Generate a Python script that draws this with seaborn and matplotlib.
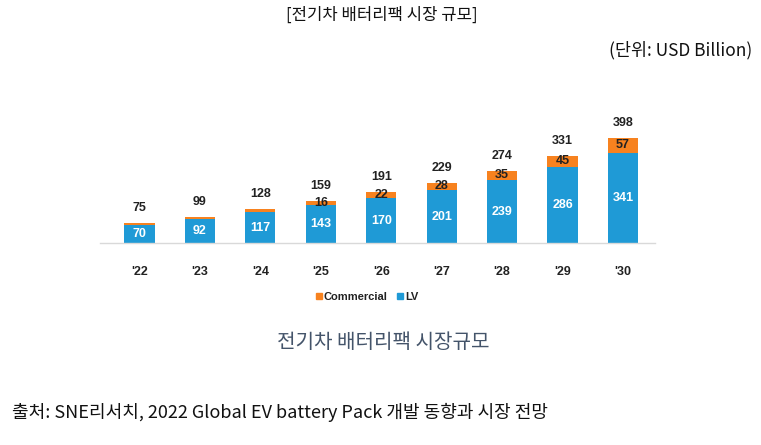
import matplotlib
matplotlib.use("Agg")
import matplotlib.pyplot as plt
import seaborn as sns
import pandas as pd
from matplotlib.lines import Line2D

years = ["'22", "'23", "'24", "'25", "'26", "'27", "'28", "'29", "'30"]
lv = [70, 92, 117, 143, 170, 201, 239, 286, 341]
commercial = [5, 7, 11, 16, 22, 28, 35, 45, 57]
totals = [75, 99, 128, 159, 191, 229, 274, 331, 398]
commercial_labels = ["", "", "", "16", "22", "28", "35", "45", "57"]

title_text = "[전기차 배터리팩 시장 규모]"
unit_text = "(단위: USD Billion)"
subtitle_text = "전기차 배터리팩 시장규모"
source_text = "출처: SNE리서치, 2022 Global EV battery Pack 개발 동향과 시장 전망"

BLUE = "#1F9AD6"
ORANGE = "#F7821F"

sns.set_theme(style="white")
plt.rcParams['font.family'] = ['Liberation Sans', 'DejaVu Sans']
KFONT = ['Noto Sans CJK KR', 'DejaVu Sans']

df = pd.DataFrame({"year": years, "lv": lv,
                   "stack": [a + b for a, b in zip(lv, commercial)]})

fig = plt.figure(figsize=(7.61, 4.45), dpi=100)
ax = fig.add_axes([100 / 761, (445 - 243.3) / 445, 555 / 761, (243.3 - 120) / 445])

sns.barplot(data=df, x="year", y="stack", color=ORANGE, width=0.5,
            saturation=1, ax=ax, linewidth=0)
sns.barplot(data=df, x="year", y="lv", color=BLUE, width=0.5,
            saturation=1, ax=ax, linewidth=0)

ax.set_xlim(-0.654, 8.53)
ax.set_ylim(0, 465)

NUM = 9
for i, (s, t) in enumerate(zip(df["stack"], totals)):
    ax.annotate(str(t), (i, s), xytext=(0, 10.8), textcoords="offset points",
                ha="center", va="center", fontsize=NUM, fontweight="bold",
                color="#222222")
ax.bar_label(ax.containers[1], labels=[str(v) for v in lv], label_type="center",
             fontsize=NUM, fontweight="bold", color="white")
for i, (b, c, lab) in enumerate(zip(lv, commercial, commercial_labels)):
    if lab:
        ax.annotate(lab, (i, b + c / 2), ha="center", va="center",
                    fontsize=NUM, fontweight="bold", color="#222222")

ax.set_xlabel("")
ax.set_ylabel("")
ax.set_yticks([])
for s in ["top", "right", "left"]:
    ax.spines[s].set_visible(False)
ax.spines["bottom"].set_color("#D9D9D9")
ax.spines["bottom"].set_linewidth(1.0)
ax.tick_params(axis="x", length=0, pad=16, labelsize=NUM, labelcolor="#222222")
for t in ax.get_xticklabels():
    t.set_fontweight("bold")

handles = [Line2D([], [], marker="s", linestyle="", color=ORANGE, markersize=4.5),
           Line2D([], [], marker="s", linestyle="", color=BLUE, markersize=4.5)]
fig.legend(handles, ["Commercial", "LV"], loc="center", ncol=2,
           bbox_to_anchor=(365 / 761, 1 - 297 / 445), frameon=False,
           prop={"size": 8, "weight": "bold"}, handletextpad=-0.2,
           handlelength=1.2, columnspacing=0.6, labelcolor="#222222")

fig.text(382 / 761, 1 - 15 / 445, title_text, ha="center", va="center",
         fontsize=12, family=KFONT, color="#111111")
fig.text(752 / 761, 1 - 50 / 445, unit_text, ha="right", va="center",
         fontsize=12.5, family=KFONT, color="#111111")
fig.text(383 / 761, 1 - 342 / 445, subtitle_text, ha="center", va="center",
         fontsize=14.5, family=KFONT, color="#44546A")
fig.text(12 / 761, 1 - 412 / 445, source_text, ha="left", va="center",
         fontsize=13, family=KFONT, color="#111111")

fig.savefig("out.png", dpi=100)
